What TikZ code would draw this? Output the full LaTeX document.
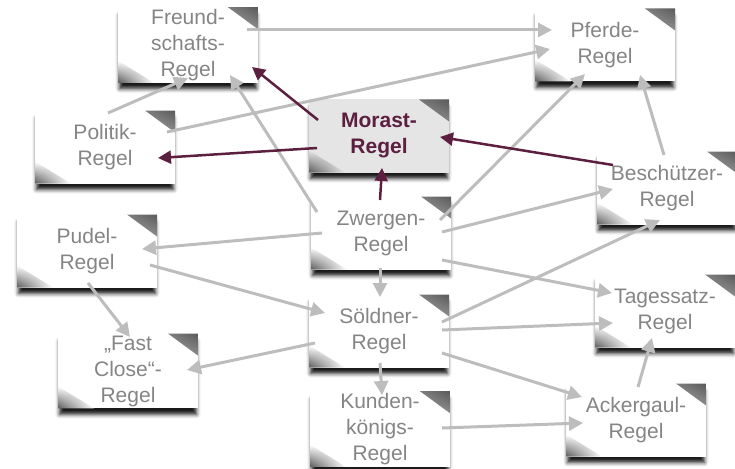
\documentclass[tikz,border=0pt]{standalone}
\usepackage{fontspec}
\setmainfont{Liberation Sans}
\usetikzlibrary{shadows.blur,arrows.meta,shadings}
\definecolor{ruletext}{HTML}{858585}
\definecolor{linkgray}{HTML}{BDBDBD}
\definecolor{wine}{HTML}{5C1F40}
\definecolor{curl}{HTML}{5A5A5A}

\tikzset{
  note/.style={rectangle, minimum width=140pt, minimum height=73pt, inner sep=2pt,
    fill=#1, align=center, text=ruletext,
    font=\fontsize{21}{26}\selectfont,
    blur shadow={shadow xshift=0pt, shadow yshift=-7pt, shadow scale=0.98,
      shadow blur radius=4pt, shadow opacity=90},
    path picture={
      \shade[upper right=curl, upper left=#1, lower left=#1, lower right=#1]
        (path picture bounding box.north east) -- ++(-30,0) -- ++(30,22) -- cycle;
      \shade[lower left=curl, upper left=#1, upper right=#1, lower right=#1]
        (path picture bounding box.south west) -- ++(36,0) -- ++(-36,-22) -- cycle;
    }},
  note/.default=white,
  focus/.style={note=black!10, text=wine, font=\bfseries\fontsize{21}{26}\selectfont},
  link/.style={draw=linkgray, line width=3pt, -{Triangle[length=14pt,width=14pt]}},
  push/.style={draw=wine, line width=2.5pt, -{Triangle[length=13pt,width=13pt]}},
}

\begin{document}
\begin{tikzpicture}[x=1pt,y=-1pt]
\useasboundingbox (0,0) rectangle (735,468);

% rule cards
\node[note]  (fr) at (188,45)  {Freund-\\schafts-\\Regel};
\node[note]  (pf) at (605,45)  {Pferde-\\Regel};
\node[note]  (po) at (105,147) {Politik-\\Regel};
\node[focus] (mo) at (379,136) {Morast-\\Regel};
\node[note]  (be) at (667,188) {Beschützer-\\Regel};
\node[note]  (zw) at (381,233) {Zwergen-\\Regel};
\node[note]  (pu) at (87,251)  {Pudel-\\Regel};
\node[note]  (so) at (379,331) {Söldner-\\Regel};
\node[note]  (ta) at (665,311) {Tagessatz-\\Regel};
\node[note]  (fc) at (128,371) {„Fast\\Close“-\\Regel};
\node[note]  (ku) at (380,429) {Kunden-\\königs-\\Regel};
\node[note]  (ac) at (636,420) {Ackergaul-\\Regel};

% plain dependencies
\draw[link] ([shift={(59,-15)}]fr.center) -- ([shift={(-53,-15)}]pf.center);
\draw[link] ([shift={(62,-15)}]po.center) -- ([shift={(-55,4)}]pf.center);
\draw[link] ([shift={(3,-34)}]po.center)  -- ([shift={(0,33)}]fr.center);
\draw[link] ([shift={(-64,-21)}]zw.center) -- ([shift={(42,30)}]fr.center);
\draw[link] ([shift={(59,-13)}]zw.center) -- ([shift={(-20,29)}]pf.center);
\draw[link] ([shift={(-3,-33)}]be.center) -- ([shift={(35,30)}]pf.center);
\draw[link] ([shift={(61,-1)}]zw.center)  -- ([shift={(-54,1)}]be.center);
\draw[link] ([shift={(-59,0)}]zw.center)  -- ([shift={(55,-2)}]pu.center);
\draw[link] ([shift={(-1,35)}]zw.center)  -- ([shift={(1,-34)}]so.center);
\draw[link] ([shift={(61,27)}]zw.center)  -- ([shift={(-53,-18)}]ta.center);
\draw[link] ([shift={(63,14)}]pu.center)  -- ([shift={(-54,-18)}]so.center);
\draw[link] ([shift={(1,32)}]pu.center)   -- ([shift={(2,-34)}]fc.center);
\draw[link] ([shift={(-64,12)}]so.center) -- ([shift={(59,-1)}]fc.center);
\draw[link] ([shift={(63,-9)}]so.center)  -- ([shift={(-7,32)}]be.center);
\draw[link] ([shift={(63,-1)}]so.center)  -- ([shift={(-52,12)}]ta.center);
\draw[link] ([shift={(63,22)}]so.center)  -- ([shift={(-54,-23)}]ac.center);
\draw[link] ([shift={(1,32)}]so.center)   -- ([shift={(2,-34)}]ku.center);
\draw[link] ([shift={(62,-1)}]ku.center)  -- ([shift={(-53,3)}]ac.center);
\draw[link] ([shift={(2,-33)}]ac.center)  -- ([shift={(-13,27)}]ta.center);

% dependencies touching the Morast rule
\draw[push] ([shift={(-61,-16)}]mo.center) -- ([shift={(64,22)}]fr.center);
\draw[push] ([shift={(-62,12)}]mo.center)  -- ([shift={(53,11)}]po.center);
\draw[push] ([shift={(-54,-23)}]be.center) -- ([shift={(61,1)}]mo.center);
\draw[push] ([shift={(-1,-33)}]zw.center)  -- ([shift={(3,32)}]mo.center);
\end{tikzpicture}
\end{document}
